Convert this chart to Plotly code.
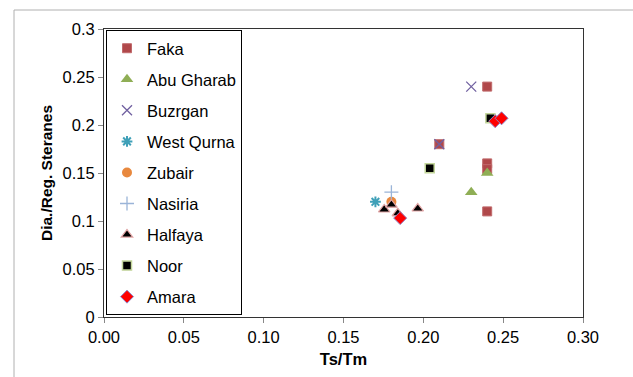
import plotly.graph_objects as go

names = ["Faka", "Abu Gharab", "Buzrgan", "West Qurna", "Zubair", "Nasiria", "Halfaya", "Noor", "Amara"]
xs = [
    [0.240, 0.210, 0.240, 0.240, 0.240],
    [0.230, 0.240],
    [0.230, 0.210],
    [0.170],
    [0.180],
    [0.180],
    [0.1755, 0.180, 0.184, 0.1965],
    [0.204, 0.242],
    [0.245, 0.249, 0.1855],
]
ys = [
    [0.240, 0.180, 0.160, 0.154, 0.110],
    [0.130, 0.150],
    [0.240, 0.180],
    [0.120],
    [0.120],
    [0.130],
    [0.112, 0.117, 0.108, 0.113],
    [0.155, 0.207],
    [0.204, 0.207, 0.103],
]
x_ticks = [0.00, 0.05, 0.10, 0.15, 0.20, 0.25, 0.30]
y_ticks = [0, 0.05, 0.1, 0.15, 0.2, 0.25, 0.3]

styles = [
    dict(symbol="square", size=9, color="#B0484A", line=dict(width=1, color="#C06A6C")),
    dict(symbol="triangle-up", size=11, color="#8FAE55", line=dict(width=0)),
    dict(symbol="x-thin", size=10, color="#7060A0", line=dict(width=1.3, color="#7060A0")),
    dict(symbol="asterisk", size=9, color="#3FA0B8", line=dict(width=2, color="#3FA0B8")),
    dict(symbol="circle", size=10, color="#E8883E", line=dict(width=0)),
    dict(symbol="cross-thin", size=10, color="#9AB4D8", line=dict(width=1.3, color="#9AB4D8")),
    dict(symbol="triangle-up", size=10, color="#000000", line=dict(width=1.2, color="#E4A6A6")),
    dict(symbol="square", size=9, color="#000000", line=dict(width=1.5, color="#C3D69B")),
    dict(symbol="diamond", size=10, color="#FF0000", line=dict(width=1, color="#8E86C9")),
]

fig = go.Figure()
for i, n in enumerate(names):
    fig.add_trace(go.Scatter(x=xs[i], y=ys[i], mode="markers", name=n,
                             marker=styles[i], legendgroup=n))

W, H = 633, 377
L, R, T, B = 104, 50, 29, 60
pw, ph = W - L - R, H - T - B

fig.update_layout(
    width=W, height=H,
    margin=dict(l=L, r=R, t=T, b=B),
    paper_bgcolor="white", plot_bgcolor="white",
    font=dict(family="Liberation Sans, Arial", size=16.5, color="#000000"),
    showlegend=True,
    legend=dict(x=(106 - L) / pw, y=1 - 1 / ph, xanchor="left", yanchor="top",
                bgcolor="white", bordercolor="#000000", borderwidth=1,
                font=dict(size=16.5), tracegroupgap=6.6, itemwidth=30),
    xaxis=dict(range=[0, 0.30], tickvals=x_ticks, tickformat=".2f",
               showline=True, linecolor="#333333", linewidth=1, mirror=True,
               ticks="outside", ticklen=5, tickcolor="#888888",
               showgrid=False, zeroline=False,
               title=dict(text="<b>Ts/Tm</b>", font=dict(size=16.5), standoff=8)),
    yaxis=dict(range=[0, 0.30], tickvals=y_ticks,
               showline=True, linecolor="#333333", linewidth=1, mirror=True,
               ticks="outside", ticklen=5, tickcolor="#888888",
               showgrid=False, zeroline=False,
               title=dict(text="<b>Dia./Reg. Steranes</b>", font=dict(size=15.5), standoff=6)),
)

# outer chart frame
fig.add_shape(type="rect", xref="paper", yref="paper",
              x0=(14 - L) / pw, x1=(W + 5 - L) / pw,
              y0=-(B + 5) / ph, y1=1 + (T - 10) / ph,
              line=dict(color="#B0B0B0", width=1), layer="below")

fig.write_html("out.html")
